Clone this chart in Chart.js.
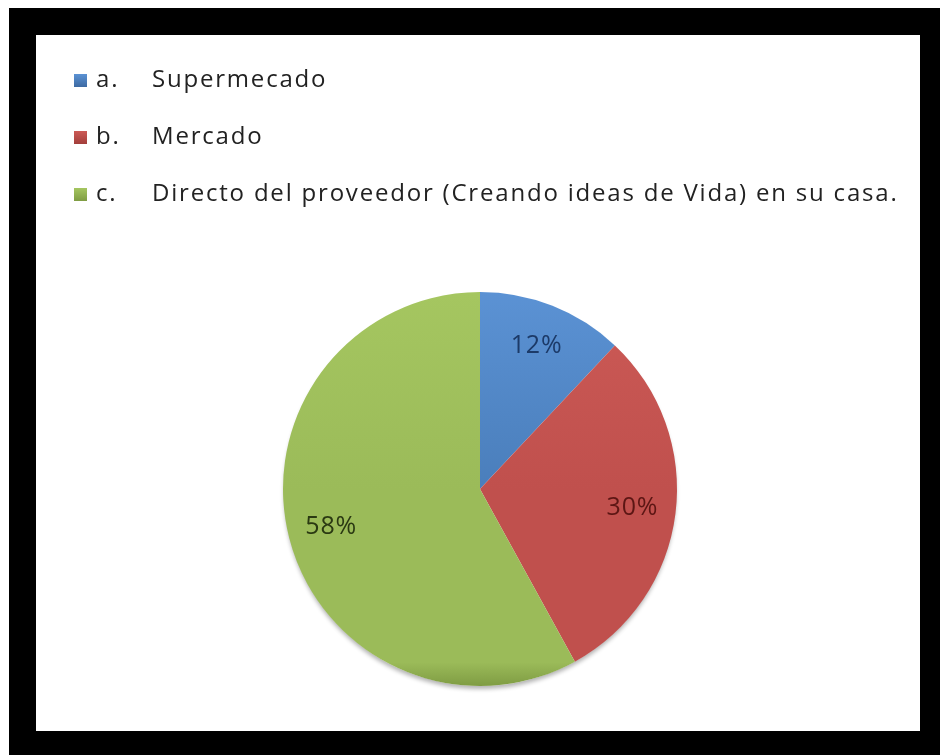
<!DOCTYPE html>
<html lang="es">
<head>
<meta charset="UTF-8">
<title>Lugar de compra</title>
<script src="https://cdn.jsdelivr.net/npm/chart.js"></script>
<style>
  html, body { margin: 0; padding: 0; background: #fff; }
  .frame { position: absolute; left: 9px; top: 8px; width: 931px; height: 747px; background: #000; }
  .panel { position: absolute; left: 36px; top: 35px; width: 884px; height: 696px; background: #fff; }
</style>
</head>
<body>
<div class="frame"></div>
<div class="panel"><canvas id="pieChart"></canvas></div>
<script>
// data
const letters = ["a.", "b.", "c."];
const labels = ["Supermecado", "Mercado", "Directo del proveedor (Creando ideas de Vida) en su casa."];
const percents = [12, 30, 58];

// colours: light top / base / dark bottom of each slice, and label ink
const sliceLight = ["#5b92d4", "#cc5a56", "#a5c660"];
const sliceBase = ["#4a7ebb", "#c0504d", "#9bbb59"];
const sliceDark = ["#3d6aa2", "#a23e3b", "#7f9c43"];
const labelInk = ["#1c3a68", "#5c1614", "#2a3912"];

function sliceFill(ctx) {
  const i = ctx.dataIndex;
  const area = ctx.chart.chartArea;
  if (!area) return sliceBase[i];
  const cy = (area.top + area.bottom) / 2;
  const r = Math.min(area.width, area.height) / 2;
  const g = ctx.chart.ctx.createLinearGradient(0, cy - r, 0, cy + r);
  g.addColorStop(0, sliceLight[i]);
  g.addColorStop(0.5, sliceBase[i]);
  g.addColorStop(0.94, sliceBase[i]);
  g.addColorStop(1, sliceDark[i]);
  return g;
}

// soft shadow under the pie
const pieShadow = {
  id: 'pieShadow',
  beforeDatasetsDraw(chart) {
    const arc = chart.getDatasetMeta(0).data[0];
    if (!arc) return;
    const c = chart.ctx;
    c.save();
    c.beginPath();
    c.arc(arc.x, arc.y + 1, arc.outerRadius - 1, 0, Math.PI * 2);
    c.fillStyle = '#ffffff';
    c.shadowColor = 'rgba(0,0,0,0.3)';
    c.shadowBlur = 4;
    c.shadowOffsetY = 3;
    c.fill();
    c.restore();
  }
};

// percentage text inside each slice
const percentLabels = {
  id: 'percentLabels',
  afterDatasetsDraw(chart) {
    const c = chart.ctx;
    c.save();
    c.font = '25px "Open Sans"';
    c.letterSpacing = '0.8px';
    c.textAlign = 'center';
    c.textBaseline = 'middle';
    chart.getDatasetMeta(0).data.forEach((arc, i) => {
      const p = arc.getProps(['x', 'y', 'startAngle', 'endAngle', 'outerRadius'], true);
      const mid = (p.startAngle + p.endAngle) / 2;
      const d = p.outerRadius * 0.78;
      c.fillStyle = labelInk[i];
      c.fillText(percents[i] + '%', p.x + Math.cos(mid) * d, p.y + Math.sin(mid) * d);
    });
    c.restore();
  }
};

// stacked legend in the top-left corner
const stackedLegend = {
  id: 'stackedLegend',
  afterDraw(chart) {
    const c = chart.ctx;
    c.save();
    c.font = '24px "Open Sans"';
    c.letterSpacing = '1.8px';
    c.textBaseline = 'alphabetic';
    labels.forEach((text, i) => {
      const base = 52 + i * 57;
      const top = base - 13;
      const g = c.createLinearGradient(0, top, 0, top + 13);
      g.addColorStop(0, sliceLight[i]);
      g.addColorStop(1, sliceDark[i]);
      c.fillStyle = g;
      c.fillRect(38, top, 13, 13);
      c.fillStyle = '#222222';
      c.fillText(letters[i], 60, base);
      c.fillText(text, 116, base);
    });
    c.restore();
  }
};

new Chart(document.getElementById('pieChart'), {
  type: 'pie',
  data: {
    labels: labels,
    datasets: [{
      data: percents,
      backgroundColor: sliceFill,
      borderWidth: 0
    }]
  },
  options: {
    responsive: true,
    maintainAspectRatio: false,
    animation: false,
    layout: { padding: { top: 257, bottom: 45, left: 247, right: 243 } },
    plugins: {
      legend: { display: false },
      tooltip: { enabled: false }
    }
  },
  plugins: [pieShadow, percentLabels, stackedLegend]
});
</script>
</body>
</html>
